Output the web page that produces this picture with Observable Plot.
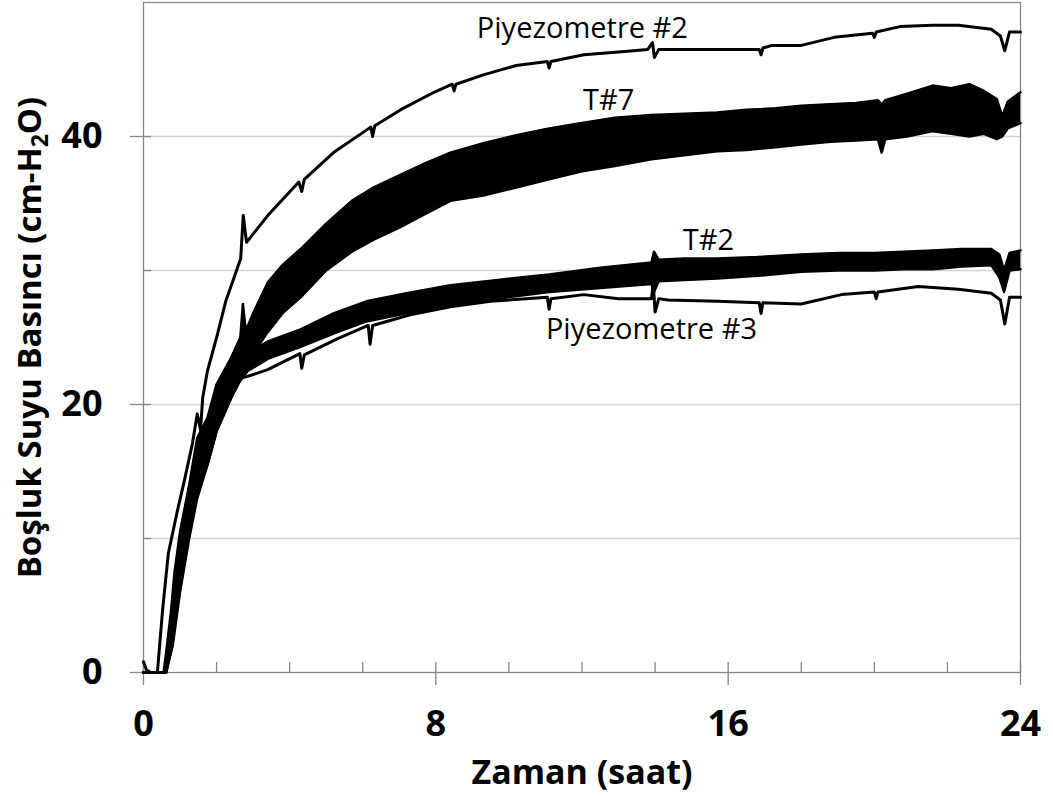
<!DOCTYPE html>
<html><head><meta charset="utf-8">
<script src="https://cdn.jsdelivr.net/npm/d3@7"></script>
<script src="https://cdn.jsdelivr.net/npm/@observablehq/plot@0.6"></script>
<style>
body{margin:0;background:#fff}
#chart svg{font-family:"Open Sans",sans-serif;background:#fff}
</style>
</head><body><div id="chart"></div>
<script>
// Piyezometre #2 (smooth)
const p2Time = [0,0.38,0.52,0.68,0.93,1.1,1.34,1.47,1.56,1.62,1.75,2.02,2.25,2.47,2.66,2.73,2.82,3.4,4.25,4.33,4.4,5.2,6.22,6.27,6.33,7.04,7.95,8.45,8.5,8.55,9.3,10.2,11.05,11.1,11.15,12.05,13.0,13.8,13.93,13.98,14.1,14.8,15.7,16.85,16.9,16.95,17.2,18.0,18.9,19.95,20.0,20.05,20.7,21.6,22.3,23.2,23.45,23.57,23.7,24];
const p2Value = [0,0,4.6,8.9,12.1,14.1,17.1,19.3,18.1,20.5,22.5,25.2,27.7,29.4,30.9,34.1,32.1,34.1,36.6,35.9,36.8,38.8,40.7,40.0,40.8,42.0,43.3,43.9,43.4,43.9,44.6,45.3,45.6,45.1,45.6,46.1,46.3,46.5,47.0,45.9,46.5,46.5,46.5,46.5,46.1,46.6,46.8,46.8,47.4,47.7,47.4,47.8,48.2,48.3,48.3,48.0,47.5,46.4,47.8,47.8];

// Piyezometre #3 (smooth)
const p3Time = [0,0.08,0.2,0.62,0.8,1.0,1.25,1.47,1.75,2.0,2.4,2.7,2.85,3.4,4.28,4.33,4.4,5.3,6.15,6.2,6.27,7.3,8.4,9.5,11.05,11.1,11.15,12.05,13.0,13.9,13.95,14.0,14.1,14.35,15.7,16.85,16.9,16.95,18.0,19.1,20.0,20.05,20.1,21.2,22.3,23.2,23.45,23.57,23.7,24];
const p3Value = [0.8,0.2,0,0,2.5,7.5,11.5,14.5,16.8,19.0,21.0,22.0,22.1,22.6,23.8,22.7,23.7,24.9,25.9,24.5,25.9,26.7,27.3,27.7,28.0,27.1,27.9,28.2,27.9,27.9,29.0,26.9,27.9,27.8,27.7,27.6,26.8,27.6,27.5,28.2,28.4,27.9,28.4,28.8,28.6,28.3,27.8,26.0,28.0,28.0];

// T#7 (noisy) — lower / upper envelope of the trace
const t7Time = [0,0.55,0.62,0.75,0.85,1.0,1.25,1.47,1.75,2.0,2.4,2.65,2.72,2.8,3.0,3.4,3.8,4.3,5.0,5.7,6.3,7.0,7.7,8.4,9.3,10.2,11.1,12.0,12.9,13.9,14.8,15.7,16.5,17.3,18.0,18.8,19.5,20.1,20.2,20.3,20.9,21.6,22.1,22.6,23.0,23.35,23.5,23.65,24];
const t7Low  = [0,0,0,1.5,4,7,10.5,13.5,15.5,18,20.5,22,22.5,23,23.8,25.4,26.8,28.0,30.0,31.4,32.3,33.2,34.2,35.2,35.6,36.2,36.8,37.4,37.8,38.3,38.6,38.9,39.0,39.2,39.4,39.6,39.7,39.8,38.8,39.8,40.0,40.4,40.2,40.0,40.2,39.8,40.0,40.6,41.0];
const t7High = [0,0,1.5,4.5,7.5,10.5,14,17.5,19,21.5,23.5,25,27.5,25.5,26.8,29.1,30.4,31.6,33.5,35.2,36.2,37.1,38.0,38.8,39.5,40.1,40.6,41.0,41.4,41.6,41.7,41.8,42.0,42.1,42.3,42.4,42.5,42.7,42.4,42.7,43.2,43.8,43.6,43.9,43.4,42.8,41.5,42.6,43.3];

// T#2 (noisy) — lower / upper envelope of the trace
const t2Time = [0,0.6,0.8,1.0,1.25,1.47,1.75,2.0,2.4,2.65,2.72,2.85,3.4,4.3,5.2,6.1,7.2,8.4,9.7,11.1,12.5,13.9,13.97,14.1,14.8,15.7,16.8,18.0,19.0,20.0,20.8,21.6,22.4,23.2,23.42,23.55,23.7,24];
const t2Low  = [0,0,2,6,10,13,15.5,18,20.5,21.8,22,22.5,23.4,24.3,25.3,26.2,26.8,27.4,27.9,28.4,28.7,29.0,28.4,29.2,29.3,29.4,29.6,29.9,30.0,30.0,30.1,30.1,30.3,30.4,29.5,28.4,30.0,30.1];
const t2High = [0,0,5,9.5,13,16,18.5,20.5,22.5,23.8,25.5,23.8,24.7,25.6,26.8,27.7,28.3,28.9,29.3,29.7,30.2,30.6,31.4,30.8,30.9,30.9,31.0,31.2,31.3,31.3,31.4,31.5,31.6,31.6,31.2,30.0,31.3,31.5];

// Labels
const seriesLabels = ["Piyezometre #2","T#7","T#2","Piyezometre #3"];
const labelX = [12.01,12.73,15.46,13.9];
const labelY = [48.06,42.69,32.24,25.6];

// Axis ticks
const xTickLabels = [0,8,16,24];
const xMinorTicks = [2,4,6,10,12,14,18,20,22];
const yTickLabels = [0,20,40];
const yMinorTicks = [10,30];
const yGrid = [10,20,30,40];
const xTitle = "Zaman (saat)";
const yTitle = "Boşluk Suyu Basıncı (cm-H2O)";

const p2 = p2Time.map((t,i)=>({t, v:p2Value[i]}));
const p3 = p3Time.map((t,i)=>({t, v:p3Value[i]}));
const t7 = t7Time.map((t,i)=>({t, lo:t7Low[i], hi:t7High[i]}));
const t2 = t2Time.map((t,i)=>({t, lo:t2Low[i], hi:t2High[i]}));
const labels = seriesLabels.map((s,i)=>({s, x:labelX[i], y:labelY[i]}));

const axisGray = "#868686";

const chart = Plot.plot({
  width: 1053,
  height: 796,
  marginLeft: 143,
  marginRight: 33,
  marginTop: 2,
  marginBottom: 124,
  x: {domain:[0,24]},
  y: {domain:[0,50]},
  marks: [
    Plot.ruleY(yGrid, {y: d=>d, stroke:"#d4d4d4", strokeWidth:1.3}),
    Plot.frame({stroke: axisGray, strokeWidth:1.3}),
    // ticks
    Plot.ruleX(xTickLabels, {x:d=>d, y1:0, y2:0, insetTop:-10, insetBottom:-13, stroke:axisGray, strokeWidth:1.3}),
    Plot.ruleX(xMinorTicks, {x:d=>d, y1:0, y2:0, insetTop:-10, stroke:axisGray, strokeWidth:1.3}),
    Plot.ruleY(yTickLabels, {y:d=>d, x1:0, x2:0, insetLeft:-13, insetRight:-8, stroke:axisGray, strokeWidth:1.3}),
    Plot.ruleY(yMinorTicks, {y:d=>d, x1:0, x2:0, insetRight:-8, stroke:axisGray, strokeWidth:1.3}),
    Plot.axisX({ticks:xTickLabels, tickSize:0, tickPadding:38, fontSize:36, fontWeight:"bold", label:null, fill:"#000"}),
    Plot.axisY({ticks:yTickLabels, tickSize:0, tickPadding:41, fontSize:36, fontWeight:"bold", label:null, fill:"#000"}),
    // noisy series
    Plot.areaY(t7, {x:"t", y1:"lo", y2:"hi", fill:"#000"}),
    Plot.line(t7, {x:"t", y:"lo", stroke:"#000", strokeWidth:2.5}),
    Plot.line(t7, {x:"t", y:"hi", stroke:"#000", strokeWidth:2.5}),
    Plot.areaY(t2, {x:"t", y1:"lo", y2:"hi", fill:"#000"}),
    Plot.line(t2, {x:"t", y:"lo", stroke:"#000", strokeWidth:2.5}),
    Plot.line(t2, {x:"t", y:"hi", stroke:"#000", strokeWidth:2.5}),
    // smooth series
    Plot.line(p2, {x:"t", y:"v", stroke:"#000", strokeWidth:3}),
    Plot.line(p3, {x:"t", y:"v", stroke:"#000", strokeWidth:3}),
    // series labels
    Plot.text(labels, {x:"x", y:"y", text:"s", fontSize:29, fill:"#000", lineAnchor:"middle"}),
    // axis titles
    Plot.text([xTitle], {frameAnchor:"bottom", dy:101, text:d=>d, fontSize:34, fontWeight:"bold", fill:"#000", textAnchor:"middle", lineAnchor:"middle"}),
    Plot.text([yTitle], {frameAnchor:"left", dx:-113, rotate:-90, text:d=>d, fontSize:33, fontWeight:"bold", fill:"#000", textAnchor:"middle", lineAnchor:"middle"})
  ]
});
document.getElementById("chart").appendChild(chart);

// subscript 2 in the y title
d3.select(chart).selectAll("text").filter(function(){return this.textContent === yTitle;}).each(function(){
  const t = d3.select(this);
  t.text(null);
  t.append("tspan").text("Boşluk Suyu Basıncı (cm-H");
  t.append("tspan").attr("font-size","23").attr("dy","7").text("2");
  t.append("tspan").attr("dy","-7").text("O)");
});
</script>
</body></html>
